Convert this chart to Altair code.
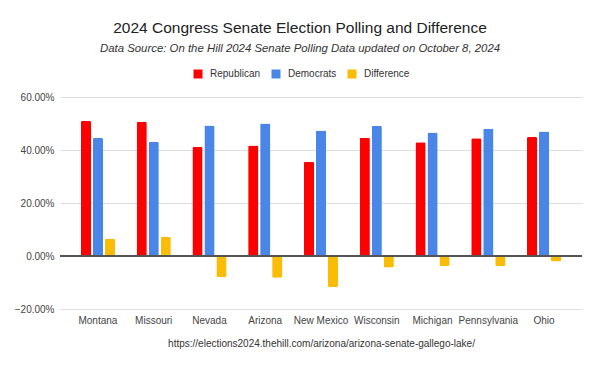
import altair as alt
import pandas as pd

states = ["Montana", "Missouri", "Nevada", "Arizona", "New Mexico",
          "Wisconsin", "Michigan", "Pennsylvania", "Ohio"]
series = ["Republican", "Democrats", "Difference"]
republican = [0.509, 0.506, 0.411, 0.417, 0.355, 0.446, 0.429, 0.444, 0.449]
democrats = [0.445, 0.431, 0.492, 0.500, 0.474, 0.491, 0.466, 0.480, 0.470]
difference = [0.065, 0.072, -0.079, -0.082, -0.117, -0.043, -0.038, -0.038, -0.021]
colors = ["#ff0000", "#4a86e8", "#fbbc04"]
y_ticks = [-0.2, 0.0, 0.2, 0.4, 0.6]

rows = []
for i, s in enumerate(states):
    for name, vals in zip(series, [republican, democrats, difference]):
        rows.append({"state": s, "series": name, "value": vals[i]})
df = pd.DataFrame(rows)

url = "https://elections2024.thehill.com/arizona/arizona-senate-gallego-lake/"

bars = alt.Chart(df).mark_bar(cornerRadius=1.5).encode(
    x=alt.X("state:N", sort=states,
            scale=alt.Scale(paddingInner=0, paddingOuter=0.18),
            axis=alt.Axis(title=url, labelAngle=0, domain=False, ticks=False,
                          grid=False, labelPadding=6, labelFontSize=10,
                          labelColor="#444444", titleFontSize=10,
                          titleFontWeight="normal", titleColor="#333333",
                          titlePadding=13)),
    xOffset=alt.XOffset("series:N", sort=series,
                        scale=alt.Scale(paddingInner=0.15, paddingOuter=0.9)),
    y=alt.Y("value:Q",
            scale=alt.Scale(domain=[-0.2, 0.6], nice=False, zero=False),
            axis=alt.Axis(title=None, format=".2%", values=y_ticks,
                          domain=False, ticks=False, labelPadding=6,
                          labelFontSize=10, labelColor="#444444",
                          gridColor="#dedede", gridWidth=1)),
    color=alt.Color("series:N", sort=series,
                    scale=alt.Scale(domain=series, range=colors),
                    legend=alt.Legend(title=None, orient="none", legendX=133,
                                      legendY=-28, direction="horizontal",
                                      symbolType="square", symbolSize=81,
                                      symbolStrokeWidth=0, labelFontSize=10,
                                      labelColor="#333333", labelOffset=7,
                                      columnPadding=10, padding=0)),
)

zero = alt.Chart(df).mark_rule(color="#555555", strokeWidth=1).encode(
    y=alt.datum(0)
)

chart = alt.layer(bars, zero).properties(
    width=522,
    height=212,
    autosize=alt.AutoSizeParams(type="none"),
    padding={"left": 52, "top": 89, "right": 10, "bottom": 50},
    title=alt.TitleParams(
        text="2024 Congress Senate Election Polling and Difference",
        subtitle="Data Source: On the Hill 2024 Senate Polling Data updated on October 8, 2024",
        anchor="middle", dx=-21, fontSize=15.5, fontWeight="normal",
        color="#222222", subtitleFontSize=11.4, subtitleFontStyle="italic",
        subtitleColor="#333333", subtitlePadding=6, offset=15),
).configure(font="Liberation Sans").configure_view(stroke=None)

chart.save("out.html", embed_options={"renderer": "svg", "actions": False})
